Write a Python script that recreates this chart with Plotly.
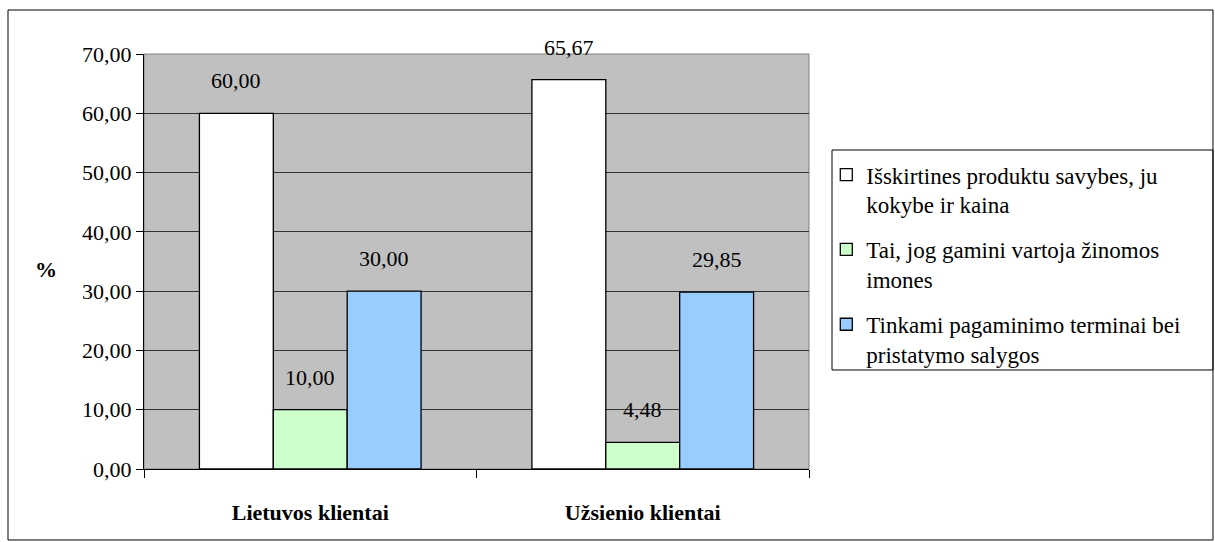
import plotly.graph_objects as go

# Survey results (%) by client group
categories = ["Lietuvos klientai", "Užsienio klientai"]
series_names = [
    "Išskirtines produktu savybes, ju<br>kokybe ir kaina",
    "Tai, jog gamini vartoja žinomos<br>imones",
    "Tinkami pagaminimo terminai bei<br>pristatymo salygos",
]
series_values = [
    [60.00, 65.67],
    [10.00, 4.48],
    [30.00, 29.85],
]
series_colors = ["#FFFFFF", "#CCFFCC", "#99CCFF"]
y_ticks = [0, 10, 20, 30, 40, 50, 60, 70]

FONT = "Liberation Serif, Times New Roman, serif"
FS = 22
BAR_PX = 74  # rendered width of one bar, used to offset value labels

fig = go.Figure()
for k, (name, vals, col) in enumerate(zip(series_names, series_values, series_colors)):
    fig.add_trace(go.Bar(
        x=categories, y=vals, name=name, legendgroup=f"g{k}",
        marker=dict(color=col, line=dict(color="black", width=1.3)),
    ))

# value labels above each bar
for i, vals in enumerate(series_values):
    for cat, v in zip(categories, vals):
        fig.add_annotation(
            x=cat, y=v, text=f"{v:.2f}".replace(".", ","),
            showarrow=False, xshift=(i - 1) * BAR_PX, yshift=18,
            yanchor="bottom", font=dict(family=FONT, size=FS, color="black"),
        )

# horizontal axis caption
fig.add_annotation(
    xref="paper", yref="paper", x=-0.148, y=0.48, text="<b>%</b>",
    showarrow=False, xanchor="center", yanchor="middle",
    font=dict(family=FONT, size=FS, color="black"),
)

fig.update_layout(
    width=1215, height=542,
    margin=dict(l=144, r=406, t=54, b=73, autoexpand=False),
    paper_bgcolor="white", plot_bgcolor="#C0C0C0",
    barmode="group", bargap=1/3, bargroupgap=0,
    separators=",.",
    font=dict(family=FONT, size=FS, color="black"),
    showlegend=True,
    legend=dict(
        x=1.026, y=0.761, xanchor="left", yanchor="top",
        bgcolor="rgba(0,0,0,0)", borderwidth=0,
        font=dict(family=FONT, size=23, color="black"),
        traceorder="grouped", tracegroupgap=12, valign="top", itemwidth=30,
    ),
    xaxis=dict(
        showline=True, linecolor="black", linewidth=1,
        ticks="outside", tickson="boundaries", ticklen=8, tickcolor="black",
        ticklabelstandoff=24,
        tickfont=dict(family=FONT, size=FS, color="black", weight="bold"),
        showgrid=False,
    ),
    yaxis=dict(
        range=[0, 70], tickvals=y_ticks, tickformat=".2f",
        showline=True, linecolor="black", linewidth=1,
        ticks="outside", ticklen=7, tickcolor="black",
        showgrid=True, gridcolor="#333333", gridwidth=1,
        zeroline=False,
        tickfont=dict(family=FONT, size=FS, color="black"),
    ),
    shapes=[
        # plot-area frame
        dict(type="rect", xref="x domain", yref="y domain", x0=0, x1=1, y0=0, y1=1,
             line=dict(color="#808080", width=1), layer="below"),
        # legend frame
        dict(type="rect", xref="paper", yref="paper",
             x0=1.0346, x1=1.6075, y0=0.2386, y1=0.7687,
             line=dict(color="black", width=1)),
        # outer chart frame
        dict(type="rect", xref="paper", yref="paper",
             x0=-0.2045, x1=1.6075, y0=-0.171, y1=1.106,
             line=dict(color="black", width=1)),
    ],
)

fig.write_html("out.html")
